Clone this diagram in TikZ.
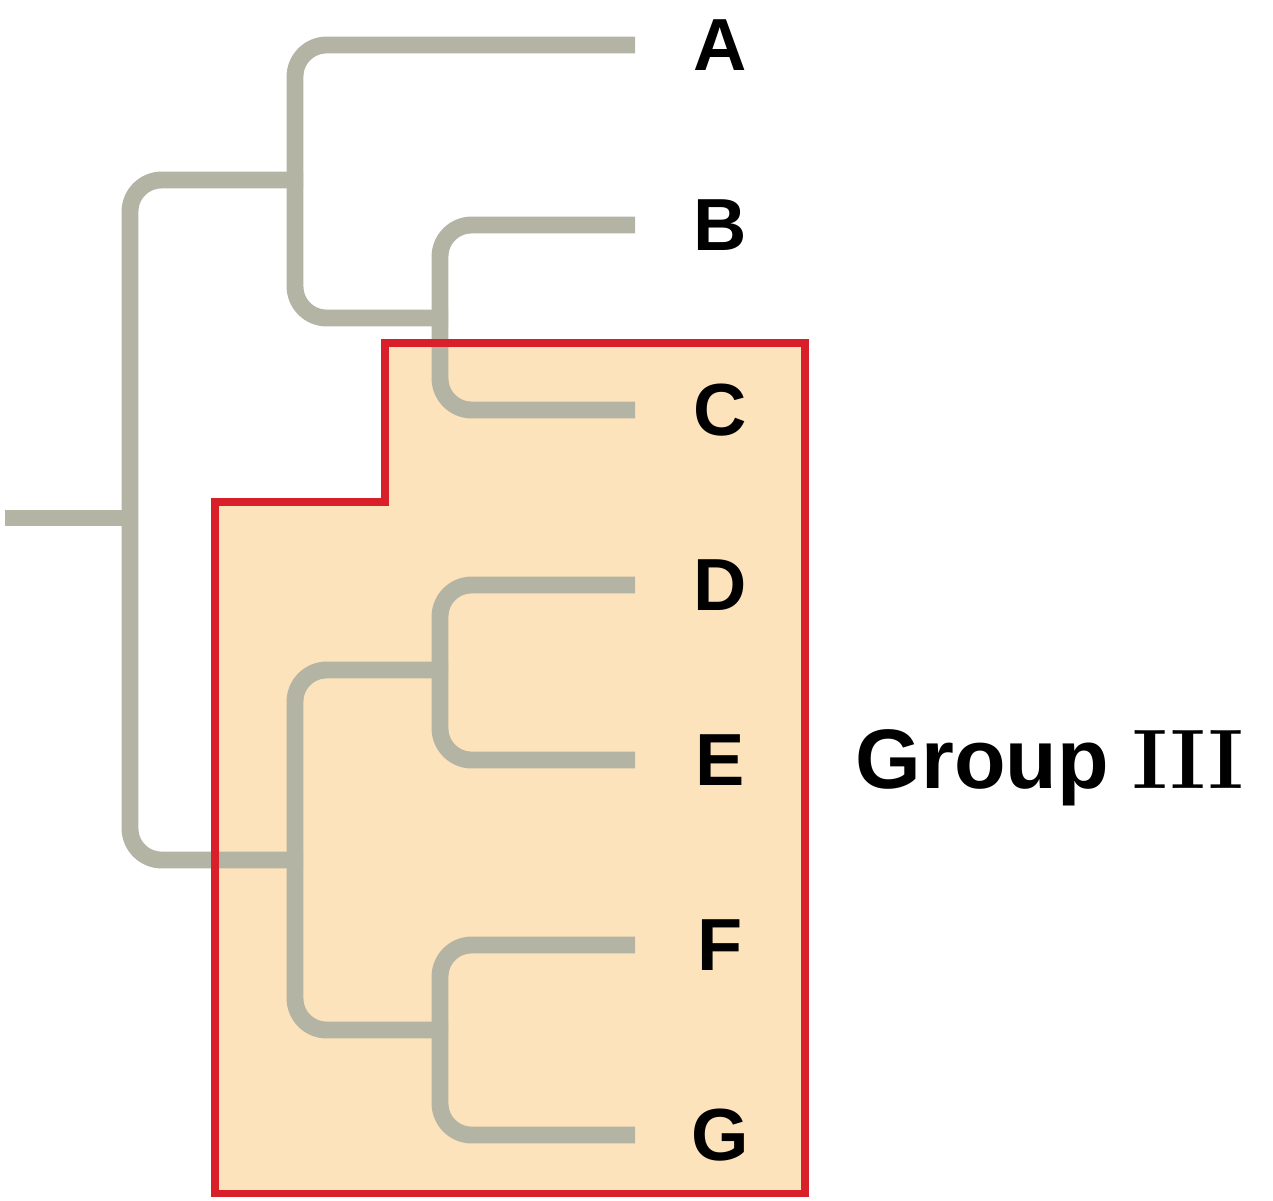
\documentclass[tikz,border=0pt]{standalone}
\usepackage{fontspec}
\setsansfont{Liberation Sans}
\usetikzlibrary{positioning}
\definecolor{branchgray}{HTML}{B4B4A4}
\definecolor{boxfill}{HTML}{FDE3BB}
\definecolor{boxred}{HTML}{D9202A}
\tikzset{
  branch/.style={draw=branchgray, line width=4.8pt, rounded corners=9pt},
  taxon/.style={font=\sffamily\bfseries\fontsize{21}{25}\selectfont, inner sep=0pt},
}
\begin{document}
\begin{tikzpicture}[x=0.01cm, y=-0.01cm]
  \useasboundingbox (0,0) rectangle (1273,1200);
  % group box fill
  \fill[boxfill] (385,343) -- (805,343) -- (805,1193) -- (215,1193) -- (215,502) -- (385,502) -- cycle;
  % taxa
  \node[taxon] (A) at (720,45) {A};
  \node[taxon] (B) at (720,225) {B};
  \node[taxon] (C) at (720,410) {C};
  \node[taxon] (D) at (720,585) {D};
  \node[taxon] (E) at (720,760) {E};
  \node[taxon] (F) at (720,945) {F};
  \node[taxon] (G) at (720,1135) {G};
  \node[font=\bfseries\fontsize{24}{28}\selectfont, anchor=west, inner sep=0pt] (grp) at (855,768) {\sffamily Group \rmfamily III};
  % branch tips
  \coordinate (tA) at (635,45);
  \coordinate (tB) at (635,225);
  \coordinate (tC) at (635,410);
  \coordinate (tD) at (635,585);
  \coordinate (tE) at (635,760);
  \coordinate (tF) at (635,945);
  \coordinate (tG) at (635,1135);
  \coordinate (root) at (5,518);
  % tree
  \draw[branch] (tB) -- (440,225) -- (440,410) -- (tC);
  \draw[branch] (tA) -- (295,45) -- (295,318) -- (448,318);
  \draw[branch] (tD) -- (440,585) -- (440,760) -- (tE);
  \draw[branch] (tF) -- (440,945) -- (440,1135) -- (tG);
  \draw[branch] (448,670) -- (295,670) -- (295,1030) -- (448,1030);
  \draw[branch] (303,180) -- (130,180) -- (130,860) -- (303,860);
  \draw[branch] (root) -- (134,518);
  % group box border
  \draw[boxred, line width=2pt] (385,343) -- (805,343) -- (805,1193) -- (215,1193) -- (215,502) -- (385,502) -- cycle;
\end{tikzpicture}
\end{document}
